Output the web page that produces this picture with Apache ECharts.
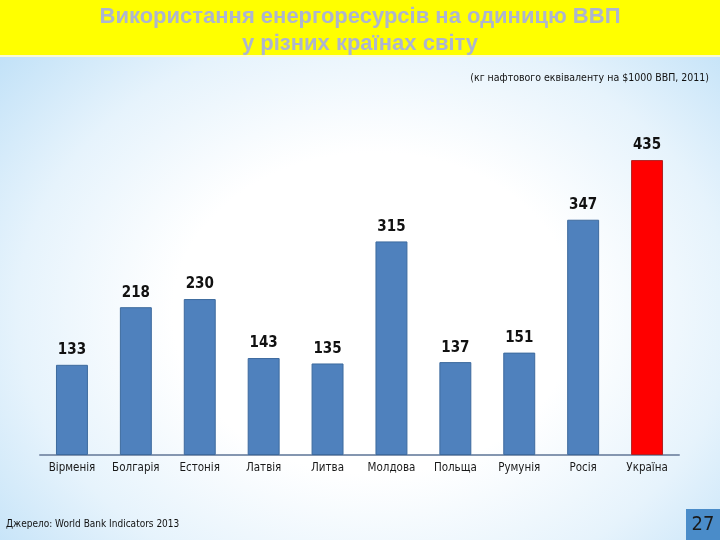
<!DOCTYPE html>
<html>
<head>
<meta charset="utf-8">
<script src="https://cdn.jsdelivr.net/npm/echarts@6/dist/echarts.min.js"></script>
<style>
html,body{margin:0;padding:0;}
#c{width:720px;height:540px;background:radial-gradient(ellipse 80% 85% at 52% 58%, #ffffff 35%, #e6f3fc 62%, #acd7f5 100%);}
</style>
</head>
<body>
<div id="c"></div>
<script>
var categories = ['Вірменія','Болгарія','Естонія','Латвія','Литва','Молдова','Польща','Румунія','Росія','Україна'];
var values = [133, 218, 230, 143, 135, 315, 137, 151, 347, 435];
var highlightIndex = 9;

var chart = echarts.init(document.getElementById('c'));
chart.setOption({
  backgroundColor: 'transparent',
  animation: false,
  graphic: [
    {type:'rect', shape:{x:0,y:0,width:720,height:55}, style:{fill:'#ffff00'}, z:0},
    {type:'rect', shape:{x:0,y:55,width:720,height:2}, style:{fill:'#fbfbd0'}, z:0},
    {type:'text', x:360, y:17, style:{text:'Використання енергоресурсів на одиницю ВВП', fill:'#adb5cf', font:'bold 22px "Liberation Sans", Arial, sans-serif', align:'center', verticalAlign:'middle'}},
    {type:'text', x:360, y:44, style:{text:'у різних країнах світу', fill:'#adb5cf', font:'bold 22px "Liberation Sans", Arial, sans-serif', align:'center', verticalAlign:'middle'}},
    {type:'text', x:709, y:78, style:{text:'(кг нафтового еквіваленту на $1000 ВВП, 2011)', fill:'#111', font:'10.5px "DejaVu Sans Condensed", sans-serif', align:'right', verticalAlign:'middle'}},
    {type:'text', x:6, y:524, style:{text:'Джерело: World Bank Indicators 2013', fill:'#111', font:'10px "DejaVu Sans Condensed", sans-serif', align:'left', verticalAlign:'middle'}},
    {type:'rect', shape:{x:686,y:509,width:34,height:31}, style:{fill:'#4a8cc9'}},
    {type:'text', x:703, y:525, style:{text:'27', fill:'#1a1a1a', font:'20px "DejaVu Sans Condensed", sans-serif', align:'center', verticalAlign:'middle'}}
  ],
  grid: {left:40, right:41, top:116, bottom:85, containLabel:false},
  xAxis: {
    type:'category', data:categories,
    axisLine:{show:true, lineStyle:{color:'#8496b0', width:2}},
    axisTick:{show:false},
    axisLabel:{interval:0, hideOverlap:false, color:'#1a1a1a', fontSize:11.5, fontFamily:'"DejaVu Sans Condensed", sans-serif', margin:7}
  },
  yAxis: {type:'value', min:0, max:500, show:false, splitLine:{show:false}},
  series: [{
    type:'bar', barWidth:'50%',
    data: values.map(function(v,i){
      return i===highlightIndex ? {value:v, itemStyle:{color:'#ff0000', borderColor:'#b02020', borderWidth:1}} : v;
    }),
    itemStyle:{color:'#4f81bd', borderColor:'#3d6a9e', borderWidth:1},
    label:{show:true, position:'top', distance:7, color:'#111', fontSize:15, fontWeight:'bold', fontFamily:'"DejaVu Sans Condensed", sans-serif'}
  }]
});
</script>
</body>
</html>
